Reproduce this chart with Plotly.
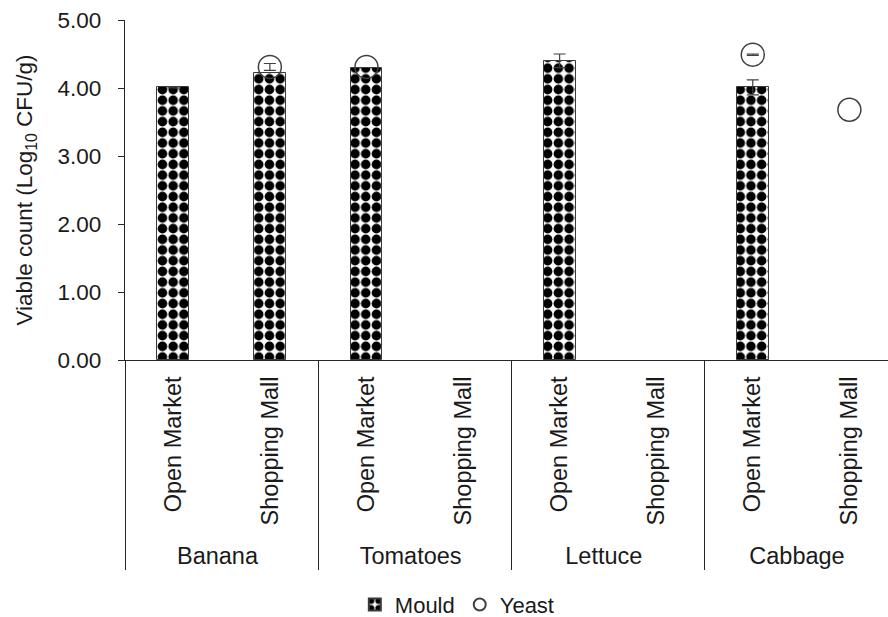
import plotly.graph_objects as go

fruits = ["Banana", "Banana", "Tomatoes", "Tomatoes", "Lettuce", "Lettuce", "Cabbage", "Cabbage"]
markets = ["Open Market", "Shopping Mall"] * 4
mould = [4.01, 4.22, 4.30, None, 4.40, None, 4.01, None]
mould_err = [0.01, None, None, None, 0.10, None, 0.11, None]
yeast = [None, 4.31, 4.31, None, None, None, 4.49, 3.68]
yeast_err = [None, 0.05, None, None, None, None, 0.01, None]
y_ticks = [0, 1, 2, 3, 4, 5]

FONT = "Liberation Sans, Arial, sans-serif"
x = [fruits, markets]


def err_array(vals):
    # "NaN" makes plotly.js skip the error bar for that point (null would be read as 0)
    return [v if v is not None else "NaN" for v in vals]


fig = go.Figure()
fig.add_trace(go.Bar(
    x=x, y=mould, name="Mould", width=0.33,
    marker=dict(color="white", line=dict(color="#3a3a3a", width=1),
                pattern=dict(shape=".", fgcolor="black", bgcolor="white",
                             size=10.7, solidity=0.62, fillmode="replace")),
    error_y=dict(type="data", array=err_array(mould_err), color="#404040", thickness=1.2, width=6),
))
fig.add_trace(go.Scatter(
    x=x, y=yeast, name="Yeast", mode="markers",
    marker=dict(symbol="circle-open", size=23, color="#404040", line=dict(width=1.5, color="#404040")),
    error_y=dict(type="data", array=err_array(yeast_err), color="#404040", thickness=1.2, width=6),
))

fig.update_layout(
    width=888, height=617,
    margin=dict(l=125, r=0, t=20, b=257),
    paper_bgcolor="white", plot_bgcolor="white",
    font=dict(family=FONT, size=22.5, color="#1a1a1a"),
    showlegend=True,
    legend=dict(orientation="h", xref="container", yref="container",
                x=0.515, xanchor="center", y=0.02, yanchor="middle",
                font=dict(size=22), itemsizing="constant", itemwidth=30),
    bargap=0.0,
)
fig.update_yaxes(
    range=[0, 5], tickvals=y_ticks, tickformat=".2f",
    showline=True, linecolor="#262626", linewidth=1.2,
    ticks="outside", ticklen=6, tickcolor="#262626", ticklabelstandoff=12,
    showgrid=False, zeroline=False,
    title=dict(text="Viable count (Log<sub>10</sub> CFU/g)", standoff=18, font=dict(size=22.5)),
)
fig.update_xaxes(
    type="multicategory", range=[-0.5, 7.4],
    showline=True, linecolor="#262626", linewidth=1.2,
    tickangle=-90, showgrid=False, ticklabelstandoff=6,
    tickfont=dict(size=23.5),
    showdividers=True, dividercolor="#262626", dividerwidth=1.2,
)

fig.write_html("out.html", config={"displayModeBar": False})
with open("out.html", encoding="utf-8") as f:
    html = f.read()
html = html.replace("<head>", "<head><style>body{margin:0;padding:0;overflow:hidden;}</style>", 1)
with open("out.html", "w", encoding="utf-8") as f:
    f.write(html)
